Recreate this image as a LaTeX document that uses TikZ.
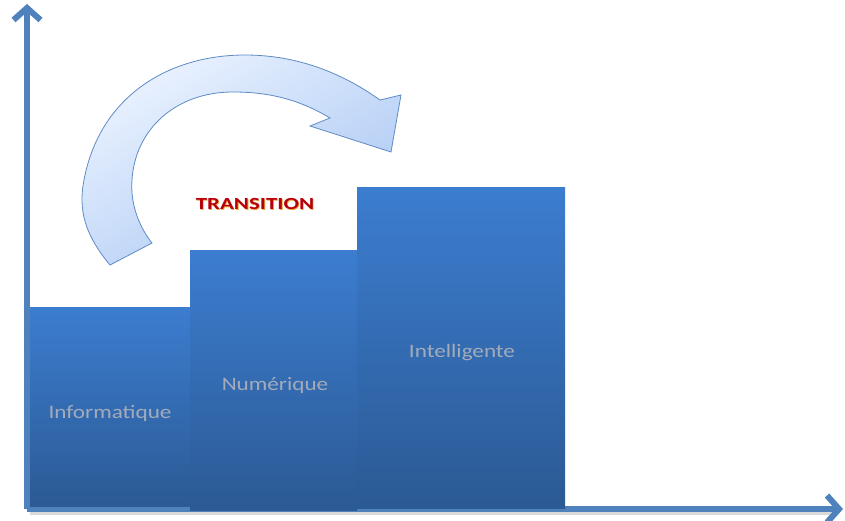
\documentclass[tikz,border=0pt]{standalone}
\usepackage{fontspec}
\setmainfont{Carlito}
\usetikzlibrary{arrows.meta}
\definecolor{axisblue}{HTML}{4F81BD}
\definecolor{bartop}{HTML}{3C7DD0}
\definecolor{barbot}{HTML}{2B5A94}
\definecolor{labelgray}{HTML}{A3ABBA}
\definecolor{arrowlight}{HTML}{EAF2FF}
\definecolor{arrowdark}{HTML}{A9C7F3}
\definecolor{arrowedge}{HTML}{5E8BC4}
\definecolor{transred}{HTML}{B8000C}
\definecolor{transglow}{HTML}{E8B040}
\tikzset{
  axisline/.style={draw=axisblue, line width=6pt,
    -{Straight Barb[length=12pt,width=27pt,line width=6pt]}},
  bar/.style={top color=bartop, bottom color=barbot, draw=none, inner sep=0pt, anchor=north west},
  barlabel/.style={text=labelgray, font=\fontsize{19}{22}\selectfont, xscale=1.22, inner sep=0pt},
  translabel/.style={font=\bfseries\fontsize{17}{20}\selectfont, xscale=1.35, inner sep=0pt},
}
\begin{document}
\begin{tikzpicture}[x=1pt,y=-1pt]
\useasboundingbox (0,0) rectangle (845,521);
% axes
\coordinate (origin) at (27,509);
\coordinate (ytip) at (27,4);
\coordinate (xtip) at (843,509);
\draw[line width=5pt, black!15] (30,512) -- (834,512);
\draw[axisline] (origin) -- (ytip);
\draw[axisline] (origin) -- (xtip);
% bars
\node[bar, minimum width=160pt, minimum height=199pt] (b1) at (30,307) {};
\node[bar, minimum width=167pt, minimum height=260pt] (b2) at (190,250) {};
\node[bar, minimum width=208pt, minimum height=321pt] (b3) at (357,187) {};
\node[barlabel] (l1) at (110,413) {Informatique};
\node[barlabel] (l2) at (275,385) {Numérique};
\node[barlabel] (l3) at (462,353) {Intelligente};
% curved arrow
\path[draw=arrowedge, line width=0.8pt, shading=axis, top color=arrowlight, bottom color=arrowdark, shading angle=30]
  (110,265) .. controls (85,235) and (78,210) .. (84,180)
  .. controls (100,95) and (170,55) .. (245,55)
  .. controls (300,55) and (345,75) .. (380,100)
  -- (401,95) -- (391,152) -- (310,126) -- (330,118)
  .. controls (300,100) and (270,92) .. (233,92)
  .. controls (175,92) and (135,130) .. (132,180)
  .. controls (130,205) and (140,228) .. (152,243) -- cycle;
% transition label
\node[translabel, text=transglow] at (255.8,204.8) {TRANSITION};
\node[translabel, text=transred] (trans) at (255,204) {TRANSITION};
\end{tikzpicture}
\end{document}
